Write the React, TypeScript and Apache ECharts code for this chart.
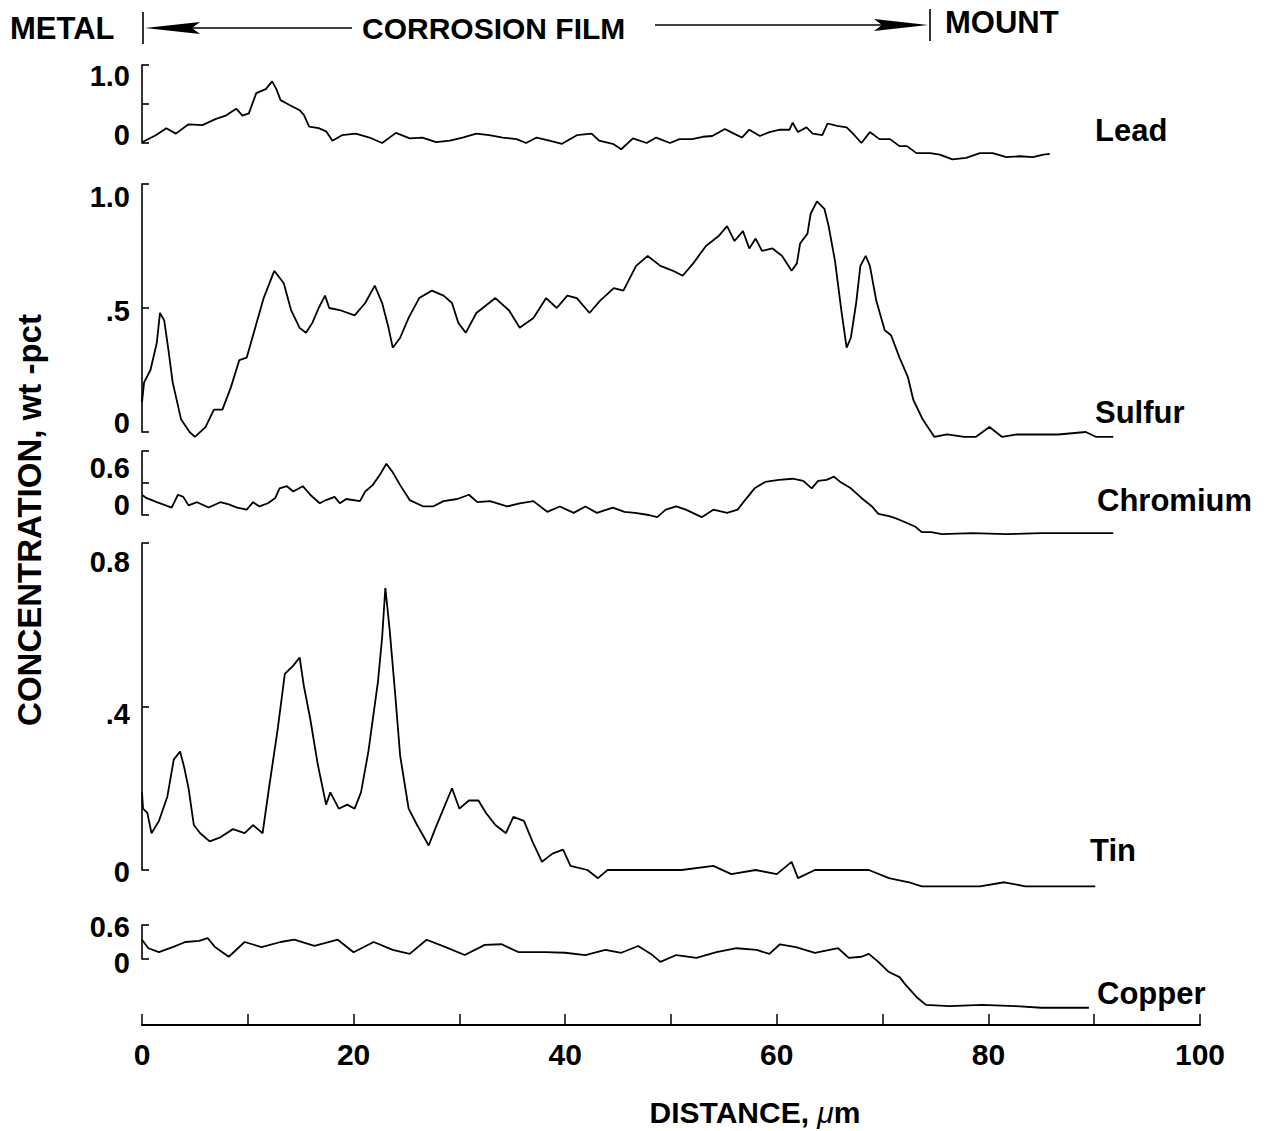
import React, { useEffect, useRef } from 'react';
import * as echarts from 'echarts';

// ---------------- DATA (distance in µm, concentration in wt-pct) ----------------
const elementNames = ['Lead', 'Sulfur', 'Chromium', 'Tin', 'Copper'];
const xTickLabels = [0, 20, 40, 60, 80, 100];

const lead: [number, number][] = [
  [0, 0.01], [1.3, 0.10], [2.3, 0.19], [3.2, 0.12], [4.4, 0.24], [5.7, 0.23], [7.0, 0.31], [7.9, 0.35],
  [8.9, 0.44], [9.5, 0.35], [10.1, 0.38], [10.8, 0.64], [11.7, 0.69], [12.3, 0.79], [12.7, 0.69], [13.1, 0.55],
  [13.9, 0.49], [14.9, 0.42], [15.3, 0.36], [15.8, 0.21], [16.7, 0.19], [17.4, 0.15], [18.0, 0.03], [18.9, 0.10],
  [20.2, 0.12], [21.5, 0.07], [22.7, 0.00], [24.0, 0.13], [25.3, 0.06], [26.5, 0.07], [27.8, 0.01], [29.1, 0.03],
  [30.3, 0.07], [31.6, 0.12], [32.8, 0.10], [34.1, 0.07], [35.4, 0.05], [36.3, 0.00], [37.3, 0.07], [38.5, 0.03],
  [39.7, -0.01], [41.1, 0.10], [42.5, 0.12], [43.2, 0.03], [44.5, -0.01], [45.3, -0.08], [46.4, 0.06], [47.7, 0.00],
  [48.6, 0.07], [49.9, 0.00], [50.8, 0.05], [52.0, 0.05], [53.0, 0.08], [53.9, 0.09], [55.1, 0.18], [55.8, 0.13],
  [56.7, 0.07], [57.4, 0.17], [58.4, 0.09], [59.3, 0.14], [60.3, 0.17], [61.2, 0.17], [61.5, 0.26], [62.0, 0.14],
  [62.8, 0.20], [63.4, 0.12], [64.3, 0.10], [64.8, 0.25], [65.7, 0.22], [66.6, 0.20], [67.2, 0.12], [68.0, 0.00],
  [68.8, 0.14], [69.7, 0.05], [70.7, 0.05], [71.6, -0.04], [72.3, -0.04], [73.2, -0.13], [74.5, -0.13], [75.4, -0.15],
  [76.6, -0.21], [77.9, -0.19], [79.2, -0.13], [80.4, -0.13], [81.7, -0.18], [83.0, -0.17], [84.2, -0.18], [85.2, -0.15],
  [85.8, -0.14],
];

const sulfur: [number, number][] = [
  [0, 0.12], [0.2, 0.20], [0.8, 0.25], [1.4, 0.36], [1.7, 0.48], [2.1, 0.45], [2.5, 0.33], [2.9, 0.20],
  [3.7, 0.05], [4.5, 0.00], [5.0, -0.02], [6.0, 0.02], [6.8, 0.09], [7.6, 0.09], [8.4, 0.18], [9.2, 0.29],
  [9.9, 0.30], [10.7, 0.42], [11.5, 0.54], [12.5, 0.65], [13.4, 0.60], [14.1, 0.49], [14.9, 0.42], [15.5, 0.40],
  [16.1, 0.44], [16.7, 0.50], [17.3, 0.55], [17.7, 0.50], [18.8, 0.49], [20.1, 0.47], [21.1, 0.52], [22.0, 0.59],
  [22.7, 0.52], [23.3, 0.42], [23.7, 0.34], [24.4, 0.38], [25.2, 0.46], [26.2, 0.54], [27.4, 0.57], [28.5, 0.55],
  [29.3, 0.52], [29.9, 0.44], [30.6, 0.40], [31.6, 0.48], [33.4, 0.54], [34.7, 0.49], [35.7, 0.42], [37.0, 0.46],
  [38.2, 0.54], [39.2, 0.50], [40.2, 0.55], [41.1, 0.54], [42.3, 0.48], [43.3, 0.53], [44.6, 0.58], [45.5, 0.57],
  [46.7, 0.67], [47.8, 0.71], [49.0, 0.67], [50.2, 0.65], [51.1, 0.63], [52.1, 0.68], [53.3, 0.75], [54.5, 0.79],
  [55.3, 0.83], [56.0, 0.77], [56.8, 0.81], [57.4, 0.74], [58.0, 0.78], [58.6, 0.73], [59.6, 0.74], [60.5, 0.71],
  [61.4, 0.65], [61.9, 0.68], [62.2, 0.76], [62.9, 0.80], [63.2, 0.88], [63.8, 0.93], [64.5, 0.90], [64.9, 0.83],
  [65.5, 0.69], [66.1, 0.49], [66.6, 0.34], [67.0, 0.38], [67.5, 0.52], [67.9, 0.67], [68.4, 0.71], [68.8, 0.67],
  [69.4, 0.53], [70.2, 0.41], [70.8, 0.39], [71.6, 0.30], [72.4, 0.22], [72.9, 0.13], [73.8, 0.05], [74.9, -0.02],
  [76.1, -0.01], [77.7, -0.02], [78.8, -0.02], [80.1, 0.02], [81.3, -0.02], [82.7, -0.01], [84.2, -0.01], [86.6, -0.01],
  [89.2, 0.00], [90.2, -0.02], [91.8, -0.02],
];

const chromium: [number, number][] = [
  [0, 0.19], [0.4, 0.16], [1.4, 0.12], [2.8, 0.07], [3.4, 0.19], [3.9, 0.17], [4.4, 0.09], [5.2, 0.12],
  [6.3, 0.07], [7.4, 0.12], [8.2, 0.10], [9.0, 0.07], [9.9, 0.05], [10.5, 0.12], [11.1, 0.08], [11.9, 0.11],
  [12.6, 0.16], [13.0, 0.25], [13.7, 0.27], [14.3, 0.22], [15.2, 0.27], [15.9, 0.19], [16.8, 0.11], [17.4, 0.14],
  [18.2, 0.17], [18.7, 0.11], [19.3, 0.15], [20.6, 0.13], [21.1, 0.22], [21.8, 0.28], [22.5, 0.38], [23.1, 0.48],
  [23.7, 0.40], [24.4, 0.28], [25.3, 0.14], [26.6, 0.08], [27.5, 0.08], [28.5, 0.13], [29.8, 0.15], [30.9, 0.19],
  [31.7, 0.12], [32.9, 0.13], [34.5, 0.08], [35.7, 0.11], [37.0, 0.13], [38.3, 0.03], [39.5, 0.08], [40.8, 0.02],
  [41.9, 0.08], [43.0, 0.02], [44.5, 0.07], [45.6, 0.03], [46.6, 0.02], [47.9, 0.00], [48.7, -0.02], [49.5, 0.05],
  [50.5, 0.08], [51.4, 0.05], [52.9, -0.02], [54.0, 0.05], [55.3, 0.02], [56.3, 0.05], [57.0, 0.14], [57.9, 0.25],
  [58.9, 0.31], [60.2, 0.33], [61.5, 0.34], [62.5, 0.32], [63.3, 0.25], [63.9, 0.32], [64.7, 0.33], [65.4, 0.36],
  [66.0, 0.31], [67.0, 0.25], [68.0, 0.16], [69.0, 0.08], [69.6, 0.01], [70.6, -0.01], [71.2, -0.03], [72.2, -0.07],
  [73.1, -0.11], [73.7, -0.16], [74.6, -0.16], [75.6, -0.18], [78.5, -0.17], [81.7, -0.18], [85.0, -0.17], [88.2, -0.17],
  [91.8, -0.17],
];

const tin: [number, number][] = [
  [0, 0.19], [0.1, 0.15], [0.5, 0.14], [0.9, 0.09], [1.6, 0.12], [2.4, 0.18], [3.0, 0.27], [3.6, 0.29],
  [4.0, 0.25], [4.4, 0.20], [4.9, 0.11], [5.5, 0.09], [6.4, 0.07], [7.4, 0.08], [8.6, 0.10], [9.7, 0.09],
  [10.5, 0.11], [11.4, 0.09], [12.0, 0.20], [12.8, 0.34], [13.5, 0.48], [14.3, 0.50], [14.9, 0.52], [15.3, 0.45],
  [15.9, 0.37], [16.6, 0.26], [17.4, 0.16], [17.8, 0.19], [18.6, 0.15], [19.4, 0.16], [20.1, 0.15], [20.7, 0.19],
  [21.4, 0.29], [22.3, 0.46], [22.7, 0.57], [23.0, 0.69], [23.4, 0.59], [23.9, 0.44], [24.4, 0.28], [25.2, 0.15],
  [26.0, 0.11], [27.1, 0.06], [27.7, 0.10], [28.5, 0.15], [29.3, 0.20], [30.0, 0.15], [30.9, 0.17], [31.8, 0.17],
  [32.5, 0.14], [33.4, 0.11], [34.4, 0.09], [35.1, 0.13], [36.1, 0.12], [36.9, 0.07], [37.8, 0.02], [38.8, 0.04],
  [39.8, 0.05], [40.5, 0.01], [42.1, 0.00], [43.1, -0.02], [44.0, 0.00], [45.1, 0.00], [46.7, 0.00], [48.3, 0.00],
  [51.0, 0.00], [54.0, 0.01], [55.7, -0.01], [58.0, 0.00], [60.0, -0.01], [61.4, 0.02], [62.0, -0.02], [63.6, 0.00],
  [66.3, 0.00], [68.7, 0.00], [70.6, -0.02], [72.5, -0.03], [73.7, -0.04], [76.4, -0.04], [79.2, -0.04], [81.5, -0.03],
  [83.5, -0.04], [86.2, -0.04], [88.2, -0.04], [90.1, -0.04],
];

const copper: [number, number][] = [
  [0, 0.34], [0.6, 0.19], [1.6, 0.12], [2.9, 0.21], [4.1, 0.30], [5.4, 0.32], [6.2, 0.37], [6.9, 0.21],
  [8.2, 0.04], [9.7, 0.30], [11.3, 0.21], [13.1, 0.30], [14.4, 0.34], [16.3, 0.23], [18.5, 0.34], [20.0, 0.12],
  [21.9, 0.30], [23.7, 0.16], [25.3, 0.09], [26.9, 0.34], [28.7, 0.21], [30.5, 0.07], [32.4, 0.25], [34.0, 0.26],
  [35.6, 0.12], [38.1, 0.12], [40.0, 0.11], [41.9, 0.07], [43.8, 0.16], [45.3, 0.11], [46.9, 0.23], [48.1, 0.09],
  [49.0, -0.05], [50.5, 0.07], [52.4, 0.02], [54.3, 0.12], [56.2, 0.19], [58.1, 0.16], [59.3, 0.09], [60.3, 0.26],
  [61.8, 0.21], [63.6, 0.11], [65.8, 0.19], [66.8, 0.02], [68.0, 0.04], [68.7, 0.09], [69.6, -0.05], [70.6, -0.23],
  [71.6, -0.32], [72.2, -0.46], [73.2, -0.67], [74.1, -0.81], [76.3, -0.83], [79.4, -0.81], [82.5, -0.83], [85.0, -0.86],
  [87.6, -0.86], [89.5, -0.86],
];

// y tick labels per panel: value, text, vertical nudge (px)
const leadTicks = [{ v: 0, t: '0', dy: -8 }, { v: 1, t: '1.0', dy: 11 }];
const sulfurTicks = [{ v: 0, t: '0', dy: -9 }, { v: 0.5, t: '.5', dy: 3 }, { v: 1, t: '1.0', dy: 13 }];
const chromiumTicks = [{ v: 0, t: '0', dy: -10 }, { v: 0.6, t: '0.6', dy: 17 }];
const tinTicks = [{ v: 0, t: '0', dy: 2 }, { v: 0.4, t: '.4', dy: 7 }, { v: 0.8, t: '0.8', dy: 19 }];
const copperTicks = [{ v: 0, t: '0', dy: 4 }, { v: 0.6, t: '0.6', dy: 2 }];

// ---------------- LAYOUT ----------------
const FONT = '"Liberation Sans", Arial, Helvetica, sans-serif';
const AX = '#000';

const panels = [
  { data: lead, ticks: leadTicks, top: 65, height: 78, min: 0, max: 1, interval: 0.5, label: [1095, 130] },
  { data: sulfur, ticks: sulfurTicks, top: 184, height: 248, min: 0, max: 1, interval: 0.5, label: [1095, 412] },
  { data: chromium, ticks: chromiumTicks, top: 451, height: 64, min: 0, max: 0.6, interval: 0.3, label: [1097, 500] },
  { data: tin, ticks: tinTicks, top: 543, height: 327, min: 0, max: 0.8, interval: 0.4, label: [1090, 850] },
  { data: copper, ticks: copperTicks, top: 925, height: 34, min: 0, max: 0.6, interval: 0.6, label: [1097, 993] },
];

function buildOption() {
  const grid = panels.map((p) => ({ left: 142, width: 1058, top: p.top, height: p.height }));

  const xAxis = panels.map((p, i) => {
    const isBottom = i === panels.length - 1;
    return {
      gridIndex: i,
      type: 'value',
      min: 0,
      max: 100,
      interval: 10,
      show: isBottom,
      position: 'bottom',
      offset: isBottom ? 66 : 0,
      axisLine: { show: true, onZero: false, lineStyle: { color: AX, width: 2 } },
      axisTick: { show: true, inside: true, length: 11, lineStyle: { color: AX, width: 1.5 } },
      splitLine: { show: false },
      axisLabel: {
        margin: 14,
        fontFamily: FONT,
        fontWeight: 'bold',
        fontSize: 30,
        color: '#000',
        formatter: (v: number) => (xTickLabels.some((t) => Math.abs(t - v) < 1e-6) ? String(Math.round(v)) : ''),
      },
      name: isBottom ? 'DISTANCE, {mu|μ}m' : '',
      nameLocation: 'middle',
      nameGap: 72,
      nameTextStyle: {
        fontFamily: FONT,
        fontWeight: 'bold',
        fontSize: 30,
        color: '#000',
        padding: [0, 0, 0, 168],
        rich: {
          mu: { fontFamily: FONT, fontStyle: 'italic', fontWeight: 'normal', fontSize: 30, color: '#000' },
        },
      },
    };
  });

  const yAxis = panels.map((p, i) => ({
    gridIndex: i,
    type: 'value',
    min: p.min,
    max: p.max,
    interval: p.interval,
    axisLine: { show: true, onZero: false, lineStyle: { color: AX, width: 1.6 } },
    axisTick: { show: true, inside: true, length: 7, lineStyle: { color: AX, width: 1.6 } },
    splitLine: { show: false },
    axisLabel: {
      show: true,
      margin: 12,
      showMinLabel: true,
      showMaxLabel: true,
      formatter: (v: number) => {
        const k = p.ticks.findIndex((t) => Math.abs(t.v - v) < 1e-6);
        return k < 0 ? '' : `{t${k}|${p.ticks[k].t}}`;
      },
      rich: Object.fromEntries(
        p.ticks.map((t, k) => [
          `t${k}`,
          {
            fontFamily: FONT,
            fontWeight: 'bold',
            fontSize: 29,
            color: '#000',
            padding: t.dy > 0 ? [2 * t.dy, 0, 0, 0] : [0, 0, -2 * t.dy, 0],
          },
        ])
      ),
    },
  }));

  const series = panels.map((p, i) => ({
    type: 'line',
    name: elementNames[i],
    xAxisIndex: i,
    yAxisIndex: i,
    data: p.data,
    showSymbol: false,
    symbol: 'none',
    clip: false,
    silent: true,
    lineStyle: { color: '#000', width: 1.8 },
  }));

  const textStyle = (size: number) => ({ fill: '#000', font: `bold ${size}px ${FONT}` });

  const graphic: any[] = [
    // element labels
    ...panels.map((p, i) => ({
      type: 'text',
      x: p.label[0],
      y: p.label[1],
      style: { ...textStyle(31), text: elementNames[i], textAlign: 'left', textVerticalAlign: 'middle' },
    })),
    // y-axis title
    {
      type: 'text',
      x: 29,
      y: 520,
      rotation: Math.PI / 2,
      style: { ...textStyle(33), text: 'CONCENTRATION, wt -pct', textAlign: 'center', textVerticalAlign: 'middle' },
    },
    // header
    { type: 'text', x: 10, y: 28, style: { ...textStyle(31), text: 'METAL', textAlign: 'left', textVerticalAlign: 'middle' } },
    { type: 'text', x: 362, y: 28, style: { ...textStyle(30), text: 'CORROSION FILM', textAlign: 'left', textVerticalAlign: 'middle' } },
    { type: 'text', x: 945, y: 22, style: { ...textStyle(31), text: 'MOUNT', textAlign: 'left', textVerticalAlign: 'middle' } },
    { type: 'line', shape: { x1: 143, y1: 12, x2: 143, y2: 44 }, style: { stroke: '#000', lineWidth: 1.6 } },
    { type: 'polygon', shape: { points: [[145, 28], [200, 22], [192, 28], [200, 34]] }, style: { fill: '#000' } },
    { type: 'line', shape: { x1: 192, y1: 28, x2: 352, y2: 28 }, style: { stroke: '#000', lineWidth: 1.4 } },
    { type: 'line', shape: { x1: 655, y1: 25, x2: 885, y2: 25 }, style: { stroke: '#000', lineWidth: 1.4 } },
    { type: 'polygon', shape: { points: [[928, 25], [874, 19], [882, 25], [874, 31]] }, style: { fill: '#000' } },
    { type: 'line', shape: { x1: 930, y1: 9, x2: 930, y2: 41 }, style: { stroke: '#000', lineWidth: 1.6 } },
  ];

  return {
    animation: false,
    backgroundColor: '#fff',
    grid,
    xAxis,
    yAxis,
    series,
    graphic,
  };
}

export default function App() {
  const ref = useRef<HTMLDivElement>(null);
  useEffect(() => {
    if (!ref.current) return;
    const chart = echarts.init(ref.current, null, { renderer: 'svg' });
    chart.setOption(buildOption() as any);
    return () => chart.dispose();
  }, []);
  return (
    <div
      ref={ref}
      style={{ position: 'absolute', left: 0, top: 0, width: 1267, height: 1131, background: '#fff' }}
    />
  );
}
